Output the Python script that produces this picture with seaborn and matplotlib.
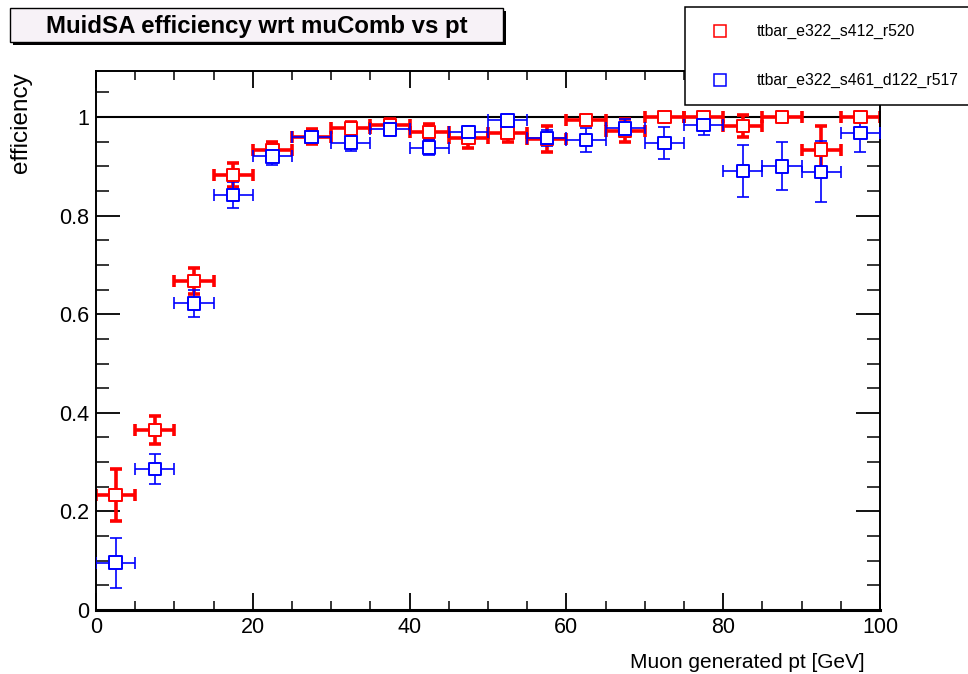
import matplotlib
matplotlib.use("Agg")
import numpy as np
import pandas as pd
import seaborn as sns
import matplotlib.pyplot as plt
from matplotlib.patches import Rectangle
from matplotlib.lines import Line2D
from matplotlib.ticker import MultipleLocator

# ---------------- data ----------------
pt_centers = [2.5, 7.5, 12.5, 17.5, 22.5, 27.5, 32.5, 37.5, 42.5, 47.5,
              52.5, 57.5, 62.5, 67.5, 72.5, 77.5, 82.5, 87.5, 92.5, 97.5]
pt_halfwidth = [2.5] * 20

red_label = "ttbar_e322_s412_r520"
red_eff = [0.233, 0.365, 0.667, 0.882, 0.933, 0.960, 0.977, 0.983, 0.970, 0.957,
           0.967, 0.955, 0.994, 0.972, 1.000, 1.000, 0.982, 1.000, 0.934, 1.000]
red_err_lo = [0.053, 0.029, 0.026, 0.024, 0.016, 0.015, 0.013, 0.012, 0.015, 0.019,
              0.018, 0.027, 0.010, 0.023, 0.008, 0.008, 0.023, 0.008, 0.047, 0.008]
red_err_hi = [0.053, 0.029, 0.026, 0.024, 0.016, 0.015, 0.013, 0.012, 0.015, 0.019,
              0.018, 0.027, 0.006, 0.023, 0.000, 0.000, 0.023, 0.000, 0.047, 0.000]

blue_label = "ttbar_e322_s461_d122_r517"
blue_eff = [0.096, 0.286, 0.622, 0.842, 0.920, 0.960, 0.948, 0.975, 0.938, 0.970,
            0.993, 0.957, 0.953, 0.977, 0.947, 0.984, 0.890, 0.900, 0.889, 0.967]
blue_err_lo = [0.051, 0.031, 0.028, 0.027, 0.018, 0.012, 0.017, 0.012, 0.016, 0.012,
               0.010, 0.016, 0.024, 0.018, 0.032, 0.020, 0.053, 0.049, 0.062, 0.037]
blue_err_hi = [0.051, 0.031, 0.028, 0.027, 0.018, 0.012, 0.017, 0.012, 0.016, 0.012,
               0.007, 0.016, 0.024, 0.018, 0.032, 0.016, 0.053, 0.049, 0.062, 0.033]

x_ticks = [0, 20, 40, 60, 80, 100]
y_ticks = [0, 0.2, 0.4, 0.6, 0.8, 1.0]
y_ticklabels = ["0", "0.2", "0.4", "0.6", "0.8", "1"]

title_text = "MuidSA efficiency wrt muComb vs pt"
x_title = "Muon generated pt [GeV]"
y_title = "efficiency"

df = pd.concat([
    pd.DataFrame({"pt": pt_centers, "eff": red_eff, "series": red_label}),
    pd.DataFrame({"pt": pt_centers, "eff": blue_eff, "series": blue_label}),
], ignore_index=True)

# ---------------- style ----------------
sns.set_style("ticks")
plt.rcParams["font.family"] = ["Liberation Sans", "DejaVu Sans"]

W, H = 968, 674
fig = plt.figure(figsize=(W / 100, H / 100), dpi=100)
fig.patch.set_facecolor("white")


def fx(px):
    return px / W


def fy(py):
    return 1 - py / H


ax = fig.add_axes([fx(96), fy(610), fx(880) - fx(96), fy(71) - fy(610)])
ax.set_facecolor("white")

RED = "#ff0000"
BLUE = "#0000ff"

# reference line at efficiency = 1
ax.axhline(1.0, color="black", lw=1.5, zorder=1)

# error bars
ax.errorbar(pt_centers, red_eff, xerr=pt_halfwidth, yerr=[red_err_lo, red_err_hi],
            fmt="none", ecolor=RED, elinewidth=2.6, capsize=4.5, capthick=2.6, zorder=2)
ax.errorbar(pt_centers, blue_eff, xerr=pt_halfwidth, yerr=[blue_err_lo, blue_err_hi],
            fmt="none", ecolor=BLUE, elinewidth=1.2, capsize=4.5, capthick=1.2, zorder=3)

# markers (open squares)
sns.scatterplot(data=df, x="pt", y="eff", hue="series", style="series",
                palette={red_label: RED, blue_label: BLUE},
                markers={red_label: "s", blue_label: "s"},
                s=80, linewidth=1.4, legend=False, ax=ax, zorder=4)
for coll in ax.collections[-1:]:
    ec = coll.get_facecolors()
    coll.set_edgecolors(ec)
    coll.set_facecolors("white")
    coll.set_zorder(4)

ax.set_xlim(0, 100)
ax.set_ylim(0, (610 - 71) / 493)
ax.set_xticks(x_ticks)
ax.set_xticklabels([str(t) for t in x_ticks])
ax.set_yticks(y_ticks)
ax.set_yticklabels(y_ticklabels)
ax.xaxis.set_minor_locator(MultipleLocator(5))
ax.yaxis.set_minor_locator(MultipleLocator(0.05))

ax.tick_params(axis="both", which="both", direction="in", top=True, right=True,
               colors="black", labelsize=15.5)
ax.tick_params(axis="x", which="major", length=12.5, width=1.3, pad=5)
ax.tick_params(axis="x", which="minor", length=6.5, width=1.1)
ax.tick_params(axis="y", which="major", length=17.5, width=1.3, pad=5)
ax.tick_params(axis="y", which="minor", length=9.5, width=1.1)
for side in ["left", "right", "top"]:
    ax.spines[side].set_visible(True)
    ax.spines[side].set_linewidth(1.4)
    ax.spines[side].set_color("black")
ax.spines["bottom"].set_linewidth(2.2)
ax.spines["bottom"].set_color("black")

ax.set_xlabel("")
ax.set_ylabel("")

# axis titles (ROOT-style placement)
fig.text(fx(865), fy(662), x_title, ha="right", va="center", fontsize=15, color="black")
fig.text(fx(21), fy(72), y_title, ha="center", va="top", rotation=90, fontsize=17.5,
         color="black")

# ---------------- title box ----------------
tx0, ty0, tx1, ty1 = 10, 8, 503, 42
shadow = Rectangle((fx(tx0 + 3), fy(ty1 + 3)), fx(tx1 - tx0), fy(ty0) - fy(ty1),
                   transform=fig.transFigure, facecolor="black", edgecolor="black",
                   lw=0, zorder=5)
fig.add_artist(shadow)
tbox = Rectangle((fx(tx0), fy(ty1)), fx(tx1 - tx0), fy(ty0) - fy(ty1),
                 transform=fig.transFigure, facecolor="#f7f2f7", edgecolor="black",
                 lw=1.0, zorder=6)
fig.add_artist(tbox)
fig.text(fx((tx0 + tx1) / 2), fy((ty0 + ty1) / 2 + 1), title_text, ha="center",
         va="center", fontsize=17.3, fontweight="bold", color="black", zorder=7)

# ---------------- legend box ----------------
lx0, ly0, lx1, ly1 = 685, 7, 990, 105
lbox = Rectangle((fx(lx0), fy(ly1)), fx(lx1 - lx0), fy(ly0) - fy(ly1),
                 transform=fig.transFigure, facecolor="white", edgecolor="black",
                 lw=1.1, zorder=5, clip_on=False)
fig.add_artist(lbox)
for yy, col, lab in [(31, RED, red_label), (80, BLUE, blue_label)]:
    fig.add_artist(Line2D([fx(720)], [fy(yy)], transform=fig.transFigure, marker="s",
                          markersize=8, markerfacecolor="white", markeredgecolor=col,
                          markeredgewidth=1.1, linestyle="none", zorder=6))
    fig.text(fx(757), fy(yy), lab, ha="left", va="center", fontsize=11.3,
             color="black", zorder=6)

fig.savefig("out.png", dpi=100, facecolor="white")
